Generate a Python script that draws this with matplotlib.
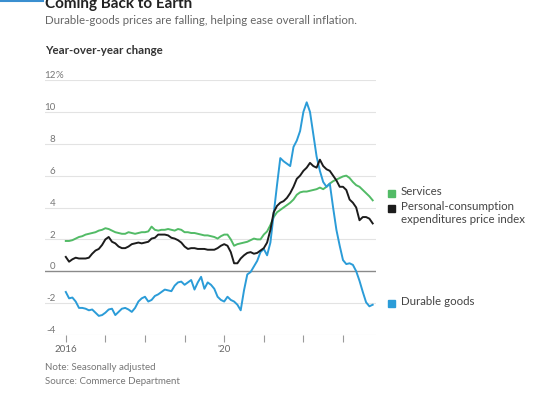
import numpy as np
import matplotlib.pyplot as plt
import matplotlib.transforms as mtransforms

plt.rcParams['font.family'] = ['Lato', 'DejaVu Sans']

# monthly year-over-year change, Jan 2016 .. Oct 2023
services = [1.9, 1.9, 1.95, 2.05, 2.15, 2.2, 2.3, 2.35, 2.4, 2.45, 2.55, 2.6,
            2.7, 2.65, 2.55, 2.45, 2.4, 2.35, 2.35, 2.45, 2.4, 2.35, 2.4, 2.45,
            2.45, 2.5, 2.8, 2.6, 2.55, 2.6, 2.6, 2.65, 2.6, 2.55, 2.65, 2.6,
            2.45, 2.45, 2.4, 2.4, 2.35, 2.3, 2.25, 2.25, 2.2, 2.15, 2.05, 2.2,
            2.3, 2.3, 2.0, 1.6, 1.7, 1.75, 1.8, 1.85, 1.95, 2.05, 2.0, 2.0,
            2.3, 2.5, 2.9, 3.4, 3.7, 3.85, 4.0, 4.15, 4.3, 4.5, 4.8, 4.95,
            5.0, 5.0, 5.05, 5.1, 5.15, 5.25, 5.15, 5.3, 5.5, 5.65, 5.75, 5.85,
            5.95, 6.0, 5.85, 5.6, 5.4, 5.3, 5.1, 4.9, 4.7, 4.45]
pce = [0.9, 0.6, 0.75, 0.85, 0.8, 0.8, 0.8, 0.85, 1.1, 1.3, 1.4, 1.65,
       2.0, 2.15, 1.85, 1.75, 1.55, 1.45, 1.45, 1.55, 1.7, 1.75, 1.8, 1.75,
       1.8, 1.85, 2.05, 2.1, 2.3, 2.3, 2.3, 2.25, 2.1, 2.05, 1.95, 1.8,
       1.55, 1.4, 1.45, 1.45, 1.4, 1.4, 1.4, 1.35, 1.35, 1.35, 1.45, 1.6,
       1.7, 1.6, 1.2, 0.5, 0.5, 0.8, 1.0, 1.15, 1.2, 1.1, 1.15, 1.3,
       1.45, 1.8, 2.6, 3.7, 4.1, 4.3, 4.4, 4.6, 4.9, 5.3, 5.8, 6.0,
       6.3, 6.5, 6.8, 6.6, 6.5, 7.0, 6.6, 6.4, 6.3, 6.0, 5.7, 5.3,
       5.3, 5.1, 4.5, 4.3, 4.0, 3.2, 3.4, 3.4, 3.3, 3.0]
durables = [-1.3, -1.7, -1.65, -1.9, -2.3, -2.3, -2.35, -2.45, -2.4, -2.6, -2.8, -2.75,
            -2.6, -2.4, -2.35, -2.75, -2.55, -2.35, -2.3, -2.4, -2.55, -2.3, -1.9, -1.7,
            -1.6, -1.9, -1.8, -1.55, -1.45, -1.3, -1.15, -1.2, -1.25, -0.9, -0.7, -0.65,
            -0.85, -0.7, -0.55, -1.15, -0.7, -0.35, -1.1, -0.7, -0.85, -1.1, -1.6, -1.8,
            -1.9, -1.6, -1.8, -1.9, -2.1, -2.45, -1.2, -0.2, -0.05, 0.3, 0.65, 1.2,
            1.4, 1.0, 1.8, 3.6, 5.4, 7.1, 6.9, 6.75, 6.6, 7.8, 8.2, 8.8,
            10.0, 10.6, 10.0, 8.6, 7.2, 6.3, 5.6, 5.3, 5.5, 4.0, 2.6, 1.6,
            0.7, 0.45, 0.5, 0.4, 0.0, -0.6, -1.3, -1.95, -2.2, -2.1]

yticks = [-4, -2, 0, 2, 4, 6, 8, 10, 12]
year_ticks = [2016, 2017, 2018, 2019, 2020, 2021, 2022, 2023]
year_labels = {2016: '2016', 2020: "'20"}

green = '#52bb66'
black = '#1c1c1c'
blue = '#2b9cd8'

W, H = 540, 397
fig = plt.figure(figsize=(W / 100, H / 100), dpi=100)
ax = fig.add_axes([45 / W, 1 - 335 / H, (376 - 45) / W, (335 - 80) / H])

months = np.arange(len(pce))
ax.set_xlim(-6.3, 94)
ax.set_ylim(-4, 12)

for v in yticks:
    if v == 0:
        continue
    ax.axhline(v, color='#e3e3e3', lw=0.8, zorder=0)
ax.axhline(0, color='#8a8a8a', lw=1.0, zorder=1)

ax.plot(months, services, color=green, lw=1.4, zorder=3)
ax.plot(months, durables, color=blue, lw=1.4, zorder=4)
ax.plot(months, pce, color=black, lw=1.4, zorder=5)

for s in ax.spines.values():
    s.set_visible(False)
ax.set_yticks([])
ax.set_xticks([(y - 2016) * 12 for y in year_ticks])
ax.set_xticklabels([year_labels.get(y, '') for y in year_ticks])
ax.tick_params(axis='x', length=5, width=0.8, color='#9a9a9a', pad=2,
               labelsize=7, labelcolor='#666666')

# y labels sit just above their gridlines
trans = mtransforms.blended_transform_factory(ax.transAxes, ax.transData)
for v in yticks:
    ax.text(0.032, v + 0.27, str(v), transform=trans, ha='right', va='center',
            fontsize=7, color='#777777')
    if v == 12:
        ax.text(0.032, v + 0.27, '%', transform=trans, ha='left', va='center',
                fontsize=7, color='#777777')

def ftext(x, y, s, **kw):
    fig.text(x / W, 1 - y / H, s, **kw)

ftext(45, 8, 'Coming Back to Earth', fontsize=11, fontweight='bold',
      color='#222222', va='baseline')
ftext(45, 20, 'Durable-goods prices are falling, helping ease overall inflation.',
      fontsize=8.3, color='#666666', va='center')
ftext(45, 51, 'Year-over-year change', fontsize=8.3, fontweight='bold',
      color='#333333', va='center')

# legend
legend_items = [('Services', green, 193), ('Personal-consumption\nexpenditures price index', black, 208),
                ('Durable goods', blue, 303)]
for label, col, yy in legend_items:
    fig.patches.append(plt.Rectangle((388 / W, 1 - (yy + 3.5) / H), 7 / W, 7 / H,
                                     transform=fig.transFigure, color=col, figure=fig))
    ftext(401, yy - 7, label, fontsize=8.3, color='#444444', va='top', linespacing=1.25)

ftext(45, 367, 'Note: Seasonally adjusted', fontsize=7, color='#777777', va='center')
ftext(45, 382, 'Source: Commerce Department', fontsize=7, color='#777777', va='center')

fig.add_artist(plt.Line2D([0, 43 / W], [1 - 0.5 / H, 1 - 0.5 / H], color='#3a8fd0', lw=1.5))

fig.savefig('out.png', dpi=100)
